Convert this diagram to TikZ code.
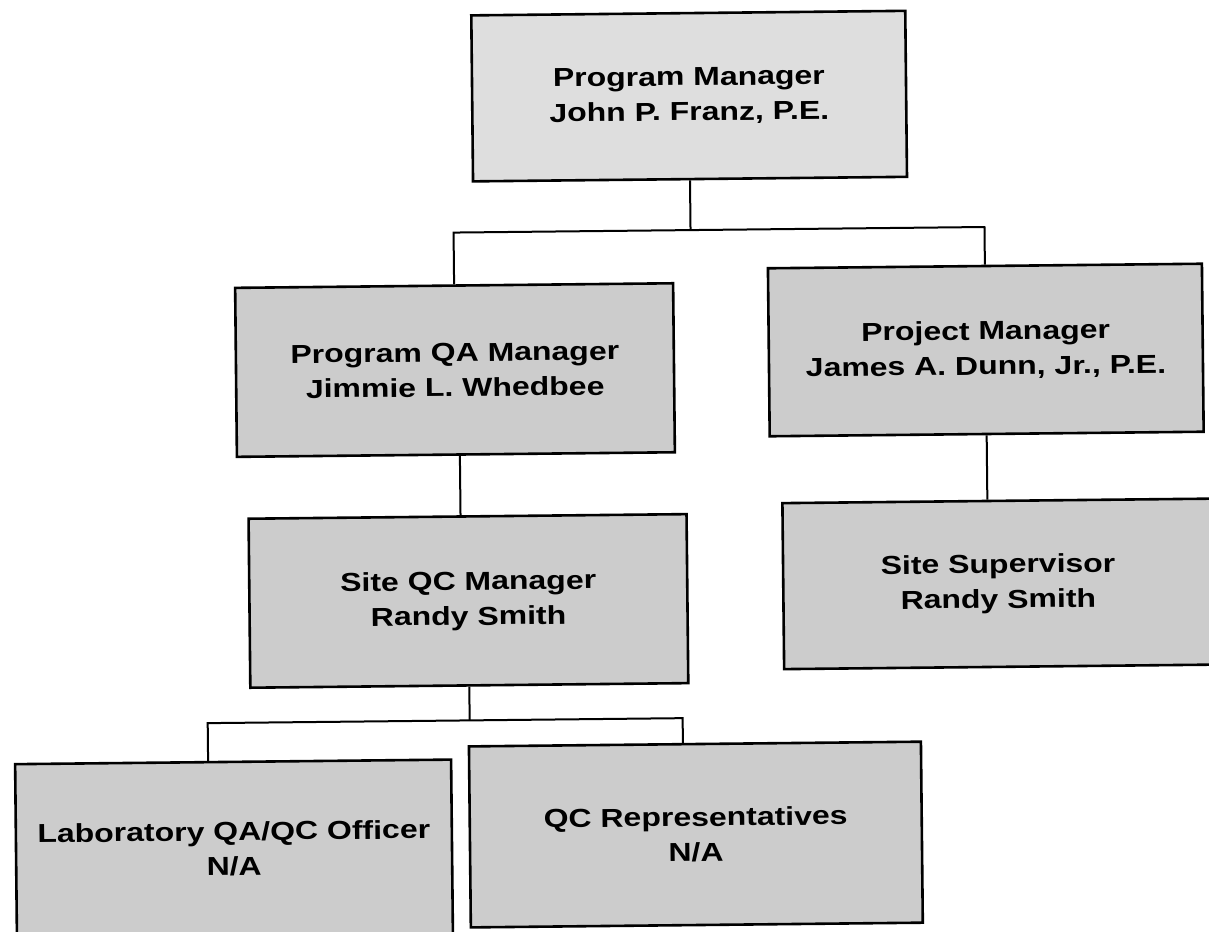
\documentclass[tikz,border=0pt]{standalone}
\usepackage{fontspec}
\setmainfont{Liberation Sans}[FakeStretch=1.23]
\begin{document}
\begin{tikzpicture}[x=1pt,y=-1pt,
  orgbox/.style={draw=black, line width=2.6pt, fill=black!20,
    align=center, inner sep=0pt,
    font=\fontsize{26}{35}\selectfont\bfseries},
  link/.style={draw=black, line width=2pt}]
\useasboundingbox (0,0) rectangle (1209,931);
\fill[white] (0,0) rectangle (1209,931);
\begin{scope}[rotate around={0.6:(604,465)}, transform shape]
  % boxes of the organisation chart
  \node[orgbox, fill=black!13, minimum width=434pt, minimum height=166pt] (pm) at (693,97)
    {Program Manager\\John P. Franz, P.E.};
  \node[orgbox, minimum width=438pt, minimum height=169pt] (qa) at (456,368.5)
    {Program QA Manager\\Jimmie L. Whedbee};
  \node[orgbox, minimum width=434pt, minimum height=168pt] (pj) at (987,354)
    {Project Manager\\James A. Dunn, Jr., P.E.};
  \node[orgbox, minimum width=438pt, minimum height=169pt] (sc) at (467,599.5)
    {Site QC Manager\\Randy Smith};
  \node[orgbox, minimum width=430pt, minimum height=166pt] (ss) at (997,588)
    {Site Supervisor\\Randy Smith};
  \node[orgbox, minimum width=436pt, minimum height=174pt] (lab) at (230,845)
    {Laboratory QA/QC Officer\\N/A};
  \node[orgbox, minimum width=452pt, minimum height=181pt] (rep) at (692,835.5)
    {QC Representatives\\N/A};

  % bus levels and drop positions
  \coordinate (busA) at (0,231);
  \coordinate (qaDrop) at (460,0);
  \coordinate (labDrop) at (205,719);
  \coordinate (repDrop) at (680,719);

  % upper level
  \draw[link] (pm.south) -- (pm.south |- busA);
  \draw[link] (qa.north) -- (qa.north |- busA) -- (pj.north |- busA) -- (pj.north);
  % reporting lines
  \draw[link] (qa.south -| qaDrop) -- (sc.north -| qaDrop);
  \draw[link] (pj.south) -- (pj.south |- ss.north);
  % lower level
  \draw[link] (sc.south) -- (sc.south |- labDrop);
  \draw[link] (lab.north -| labDrop) -- (labDrop) -- (repDrop) -- (rep.north -| repDrop);
\end{scope}
\end{tikzpicture}
\end{document}
